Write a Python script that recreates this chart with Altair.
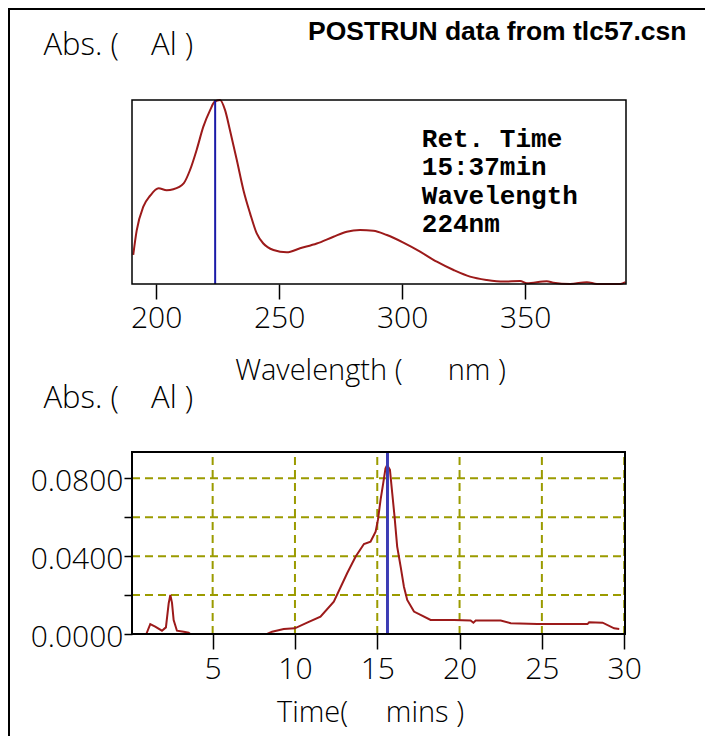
import altair as alt
import pandas as pd

# ---------------- data ----------------
# UV spectrum at the cursor (relative absorbance, no scale shown)
wavelength_nm = [190.7, 192.1, 194.8, 197.6, 201.0, 204.3, 207.0, 211.2, 213.8, 216.5,
                 219.2, 222.0, 223.7, 226.0, 228.0, 230.0, 232.8, 235.5, 238.2, 240.9,
                 243.6, 247.7, 253.1, 258.5, 265.3, 272.1, 277.5, 282.9, 288.3, 293.8,
                 300.5, 307.3, 314.1, 320.9, 327.6, 334.4, 341.2, 348.0, 350.7, 358.8,
                 361.5, 368.3, 375.1, 379.2, 388.7, 390.8]
spectrum_abs = [0.158, 0.29, 0.42, 0.48, 0.52, 0.51, 0.515, 0.547, 0.62, 0.73,
                0.855, 0.946, 0.99, 1.0, 0.946, 0.837, 0.674, 0.51, 0.384, 0.275,
                0.22, 0.185, 0.172, 0.194, 0.22, 0.257, 0.284, 0.293, 0.29, 0.266,
                0.225, 0.176, 0.121, 0.076, 0.04, 0.022, 0.013, 0.016, 0.004, 0.015,
                0.007, 0.0, 0.01, 0.0, 0.0, 0.01]

# Chromatogram
time_min = [0.97, 1.21, 1.51, 1.92, 2.16, 2.33, 2.43, 2.53, 2.63, 2.83,
            3.24, 3.54, 3.64, 8.31, 8.61, 9.32, 9.99, 10.74, 11.55, 12.36,
            13.17, 13.68, 14.19, 14.59, 14.90, 15.04, 15.20, 15.36, 15.50, 15.60,
            15.77, 15.91, 16.05, 16.21, 16.42, 16.62, 16.82, 17.23, 17.63, 18.24,
            19.66, 20.67, 20.84, 20.98, 22.50, 23.11, 24.73, 27.77, 27.87, 28.69,
            29.39, 29.70]
chrom_abs = [0.0, 0.0051, 0.0038, 0.0017, 0.0034, 0.0158, 0.020, 0.016, 0.0072, 0.0017,
             0.0012, 0.0007, 0.0, 0.0, 0.0012, 0.0026, 0.0029, 0.0058, 0.0089, 0.0166,
             0.0312, 0.0397, 0.0462, 0.0474, 0.0526, 0.0586, 0.0689, 0.0774, 0.0851, 0.0868,
             0.0843, 0.0723, 0.0603, 0.0449, 0.0346, 0.0243, 0.0175, 0.0115, 0.0098, 0.0072,
             0.0072, 0.0069, 0.0058, 0.0069, 0.0069, 0.0055, 0.0051, 0.0051, 0.006, 0.0058,
             0.0029, 0.0026]

wl_ticks = [200, 250, 300, 350]
time_ticks = [5, 10, 15, 20, 25, 30]
abs_ticks = [0.0, 0.02, 0.04, 0.06, 0.08]
grid_time = [5, 10, 15, 20, 25, 30]
grid_abs = [0.02, 0.04, 0.06, 0.08]

wl_domain = [190.2, 391.0]
spec_domain = [0.0, 1.0]
time_domain = [0.1, 30.05]
abs_domain = [0.0, 0.0935]

cursor_wl = 224
cursor_time = 15.62

NB = "\u00a0"
title_text = "POSTRUN data from tlc57.csn"
abs_title = "Abs." + NB + "(" + NB * 4 + "Al" + NB + ")"
wl_title = "Wavelength" + NB + "(" + NB * 6 + "nm" + NB + ")"
time_title = "Time(" + NB * 5 + "mins" + NB + ")"
annotation_text = "Ret. Time\n15:37min\nWavelength\n224nm"
annotation_pos = [308.0, 0.746]

# ---------------- styling ----------------
W, H = 697, 728
SANS = "Open Sans"
CURVE = "#9c1a1a"
GRID = "#9b9b00"

top_x = alt.Scale(domain=wl_domain, range=[124, 618], nice=False, zero=False)
top_y = alt.Scale(domain=spec_domain, range=[276, 92], nice=False, zero=False)
bot_x = alt.Scale(domain=time_domain, range=[124, 617], nice=False, zero=False)
bot_y = alt.Scale(domain=abs_domain, range=[626, 444], nice=False, zero=False)

common = dict(labelFont=SANS, labelFontSize=30, labelFontWeight=300, labelColor="black",
              titleFont=SANS, titleFontWeight=300, titleColor="black",
              tickColor="black", grid=False, domain=False)

top_x_axis = alt.Axis(values=wl_ticks, orient="bottom", offset=276 - H, tickSize=15, tickWidth=1.5,
                      labelPadding=4, labelFlush=False, format="d",
                      title=wl_title, titleFontSize=29, titleX=362, titleY=72, titleAlign="center",
                      titleBaseline="top", **common)
top_y_axis = alt.Axis(orient="left", offset=0, ticks=False, labels=False,
                      title=abs_title, titleFontSize=31, titleAngle=0, titleAlign="left",
                      titleBaseline="top", titleX=35, titleY=22, **common)
bot_x_axis = alt.Axis(values=time_ticks, orient="bottom", offset=626 - H, tickSize=15, tickWidth=1.5,
                      labelPadding=5, labelFlush=False, format="d",
                      title=time_title, titleFontSize=29, titleX=362, titleY=64, titleAlign="center",
                      titleBaseline="top", **common)
bot_y_axis = alt.Axis(values=abs_ticks, orient="left", offset=-124, tickSize=8, tickWidth=1.5,
                      labelPadding=1, labelOffset=3,
                      labelExpr="abs(datum.value/0.04 - round(datum.value/0.04)) < 0.01 ? format(datum.value, '.4f') : ''",
                      title=abs_title, titleFontSize=31, titleAngle=0, titleAlign="left",
                      titleBaseline="top", titleX=-89, titleY=375, **common)

def TX(f): return alt.X(f, type="quantitative", scale=top_x, axis=top_x_axis)
def TY(f): return alt.Y(f, type="quantitative", scale=top_y, axis=top_y_axis)
def BX(f): return alt.X(f, type="quantitative", scale=bot_x, axis=bot_x_axis)
def BY(f): return alt.Y(f, type="quantitative", scale=bot_y, axis=bot_y_axis)

# ---------------- top panel ----------------
spec_df = pd.DataFrame({"wl": wavelength_nm, "a": spectrum_abs})
spec_line = alt.Chart(spec_df).mark_line(color=CURVE, strokeWidth=2, interpolate="monotone").encode(
    x=TX("wl"), y=TY("a"))
top_cursor = alt.Chart(pd.DataFrame({"x": [cursor_wl], "y0": [spec_domain[0]], "y1": [spec_domain[1]]})).mark_rule(
    color="#1a1aa8", strokeWidth=2).encode(x=TX("x"), y=TY("y0"), y2="y1")
top_box = alt.Chart(pd.DataFrame({"x0": [wl_domain[0]], "x1": [wl_domain[1]],
                                  "y0": [spec_domain[0]], "y1": [spec_domain[1]]})).mark_rect(
    fillOpacity=0, stroke="black", strokeWidth=1.5).encode(x=TX("x0"), x2="x1", y=TY("y0"), y2="y1")
annot = alt.Chart(pd.DataFrame({"x": [annotation_pos[0]], "y": [annotation_pos[1]], "t": [annotation_text]})).mark_text(
    align="left", baseline="alphabetic", font="Liberation Mono", fontWeight="bold", fontSize=26,
    lineBreak="\n", lineHeight=28.5, color="black").encode(x=TX("x"), y=TY("y"), text="t:N")
top_panel = alt.layer(spec_line, top_cursor, top_box, annot)

# ---------------- bottom panel ----------------
vgrid = alt.Chart(pd.DataFrame({"t": grid_time, "y0": abs_domain[0], "y1": abs_domain[1]})).mark_rule(
    color=GRID, strokeWidth=2, strokeDash=[8, 5]).encode(x=BX("t"), y=BY("y0"), y2="y1")
hgrid = alt.Chart(pd.DataFrame({"v": grid_abs, "x0": time_domain[0], "x1": time_domain[1]})).mark_rule(
    color=GRID, strokeWidth=2, strokeDash=[8, 5]).encode(y=BY("v"), x=BX("x0"), x2="x1")
chrom_df = pd.DataFrame({"t": time_min, "a": chrom_abs})
chrom_line = alt.Chart(chrom_df).mark_line(color=CURVE, strokeWidth=2).encode(x=BX("t"), y=BY("a"))
bot_cursor = alt.Chart(pd.DataFrame({"x": [cursor_time], "y0": [abs_domain[0]], "y1": [abs_domain[1]]})).mark_rule(
    color="#3c3cb4", strokeWidth=3).encode(x=BX("x"), y=BY("y0"), y2="y1")
bot_box = alt.Chart(pd.DataFrame({"x0": [time_domain[0]], "x1": [time_domain[1]],
                                  "y0": [abs_domain[0]], "y1": [abs_domain[1]]})).mark_rect(
    fillOpacity=0, stroke="black", strokeWidth=2).encode(x=BX("x0"), x2="x1", y=BY("y0"), y2="y1")
bot_panel = alt.layer(vgrid, hgrid, chrom_line, bot_cursor, bot_box)

# ---------------- decorations ----------------
one = pd.DataFrame({"t": [title_text]})
title = alt.Chart(one).mark_text(align="left", baseline="alphabetic", font="Liberation Sans",
                                 fontWeight="bold", fontSize=26.5, color="black").encode(
    x=alt.value(300), y=alt.value(32), text="t:N")
frame_left = alt.Chart(one).mark_rule(color="black", strokeWidth=2).encode(
    x=alt.value(1), y=alt.value(0), y2=alt.value(H))
frame_top = alt.Chart(one).mark_rule(color="black", strokeWidth=2).encode(
    x=alt.value(0), x2=alt.value(W), y=alt.value(1))

chart = alt.layer(top_panel, bot_panel, title, frame_left, frame_top).resolve_scale(
    x="independent", y="independent").resolve_axis(x="independent", y="independent").properties(
    width=W, height=H, padding=0, autosize=alt.AutoSizeParams(type="none"),
    background="white").configure_view(stroke=None)

chart.save("out.html", embed_options={"renderer": "svg", "actions": False})
